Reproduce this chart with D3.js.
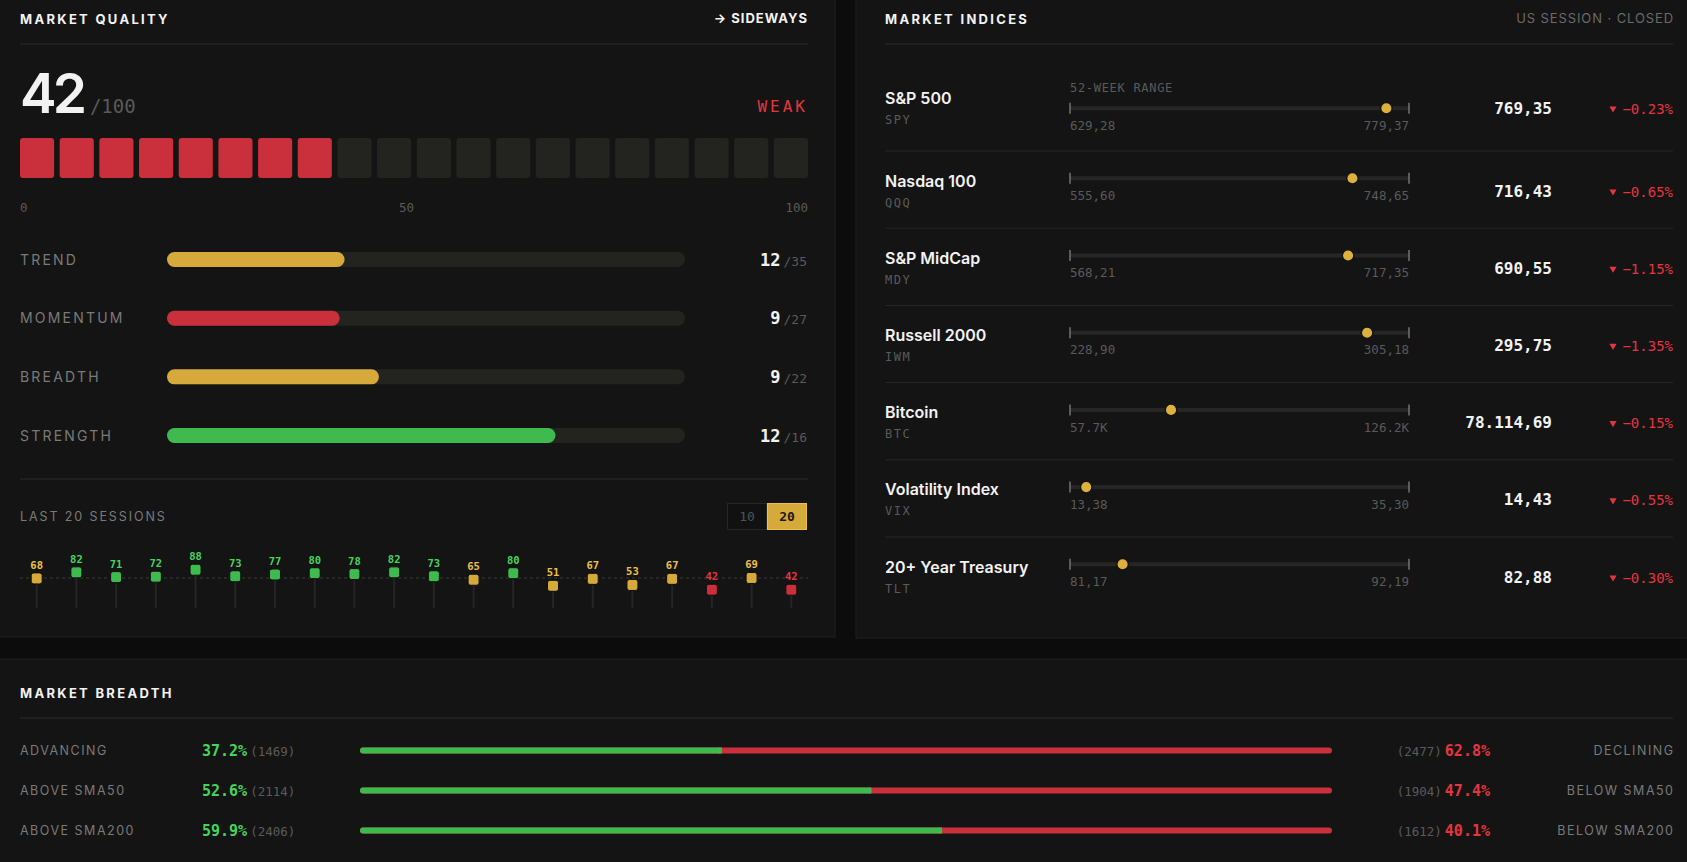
<!DOCTYPE html>
<html>
<head>
<meta charset="utf-8">
<script src="https://cdn.jsdelivr.net/npm/d3@7"></script>
<style>
html, body { margin: 0; padding: 0; background: #0c0c0c; overflow: hidden; }
svg { display: block; }
.sans { font-family: Inter, "Noto Sans", sans-serif; }
.mono { font-family: "DejaVu Sans Mono", monospace; }
</style>
</head>
<body>
<svg id="board"></svg>
<script>

//chart values//

var qualityScore = 42;
var qualityMax = 100;
var qualityRating = "WEAK";
var qualityTrend = "SIDEWAYS";
var qualityTicks = [0, 50, 100];

var componentNames = ["TREND", "MOMENTUM", "BREADTH", "STRENGTH"];
var componentScores = [12, 9, 9, 12];
var componentMax = [35, 27, 22, 16];

var sessionScores = [68, 82, 71, 72, 88, 73, 77, 80, 78, 82, 73, 65, 80, 51, 67, 53, 67, 42, 69, 42];
var sessionWindows = [10, 20];

var indexNames = ["S&P 500", "Nasdaq 100", "S&P MidCap", "Russell 2000", "Bitcoin", "Volatility Index", "20+ Year Treasury"];
var indexTickers = ["SPY", "QQQ", "MDY", "IWM", "BTC", "VIX", "TLT"];
var indexLows = [629.28, 555.60, 568.21, 228.90, 57700, 13.38, 81.17];
var indexHighs = [779.37, 748.65, 717.35, 305.18, 126200, 35.30, 92.19];
var indexPrices = [769.35, 716.43, 690.55, 295.75, 78114.69, 14.43, 82.88];
var indexChanges = [-0.23, -0.65, -1.15, -1.35, -0.15, -0.55, -0.30];

var breadthUpLabels = ["ADVANCING", "ABOVE SMA50", "ABOVE SMA200"];
var breadthDownLabels = ["DECLINING", "BELOW SMA50", "BELOW SMA200"];
var breadthUp = [1469, 2114, 2406];
var breadthDown = [2477, 1904, 1612];

//screen and colours//

var screen = {width: 1687, height: 862};
var col = {
  panel: "#141414", edge: "#1f1f1f", rule: "#2a2a2a", track: "#23231f",
  white: "#f2f2f2", label: "#7a7a7a", dim: "#5a5a5a",
  red: "#c9303b", redText: "#e5353f",
  yellow: "#d6aa3a", yellowText: "#efc146",
  green: "#3fba4f", greenText: "#47d35b"
};

var levelFill = function(v) { return v >= 70 ? col.green : (v >= 50 ? col.yellow : col.red); };
var levelText = function(v) { return v >= 70 ? col.greenText : (v >= 50 ? col.yellowText : col.redText); };

var euro = d3.formatLocale({decimal: ",", thousands: ".", grouping: [3], currency: ["", ""]});
var priceFmt = euro.format(",.2f");
var rangeFmt = function(v) { return v >= 10000 ? d3.format(".1f")(v / 1000) + "K" : priceFmt(v); };
var pctFmt = d3.format(".1f");

var svg = d3.select("#board")
            .attr("width", screen.width)
            .attr("height", screen.height);

//panels//

svg.append("rect").attr("x", -1).attr("y", -10).attr("width", 836).attr("height", 647)
   .attr("fill", col.panel).attr("stroke", col.edge);
svg.append("rect").attr("x", 856).attr("y", -10).attr("width", 846).attr("height", 648)
   .attr("fill", col.panel).attr("stroke", col.edge);
svg.append("rect").attr("x", -1).attr("y", 659).attr("width", 1700).attr("height", 220)
   .attr("fill", col.panel).attr("stroke", col.edge);

var title = function(x, y, txt) {
  svg.append("text").attr("class", "sans").attr("x", x).attr("y", y)
     .attr("fill", col.white).style("font-size", "13px").style("font-weight", 700)
     .style("letter-spacing", "2.3px").text(txt);
};
var rule = function(x1, x2, y) {
  svg.append("line").attr("x1", x1).attr("x2", x2).attr("y1", y).attr("y2", y)
     .attr("stroke", col.rule).attr("stroke-width", 1);
};

// ---------- MARKET QUALITY ----------

title(20, 24.3, "MARKET QUALITY");
svg.append("text").attr("class", "sans").attr("x", 808).attr("y", 23).attr("text-anchor", "end")
   .attr("fill", col.white).style("font-size", "13px").style("font-weight", 700)
   .style("letter-spacing", "1px").text("\u2192 " + qualityTrend);
rule(20, 808, 44);

var big = svg.append("text").attr("x", 20).attr("y", 113.3);
big.append("tspan").attr("class", "sans").attr("fill", col.white)
   .style("font-size", "55px").style("font-weight", 600).style("letter-spacing", "-4px")
   .text(qualityScore);
big.append("tspan").attr("class", "mono").attr("dx", 7).attr("fill", col.dim)
   .style("font-size", "19px").text("/" + qualityMax);

svg.append("text").attr("class", "mono").attr("x", 808).attr("y", 112).attr("text-anchor", "end")
   .attr("fill", col.redText).style("font-size", "16px").style("letter-spacing", "3px")
   .text(qualityRating);

var cellCount = 20;
var cellScale = d3.scaleBand().domain(d3.range(cellCount)).range([20, 808]).paddingInner(0.14);
var filled = Math.floor(qualityScore / (qualityMax / cellCount));

svg.append("g").selectAll("rect")
   .data(d3.range(cellCount))
   .enter()
   .append("rect")
   .attr("x", function(d) { return cellScale(d); })
   .attr("y", 138)
   .attr("width", cellScale.bandwidth())
   .attr("height", 40)
   .attr("rx", 3)
   .attr("fill", function(d) { return d < filled ? levelFill(qualityScore) : col.track; });

var tickScale = d3.scaleLinear().domain([0, qualityMax]).range([20, 808]);
svg.append("g").selectAll("text")
   .data(qualityTicks)
   .enter()
   .append("text")
   .attr("class", "mono")
   .attr("x", function(d) { return tickScale(d); })
   .attr("y", 211.5)
   .attr("text-anchor", function(d, i) { return i == 0 ? "start" : "end"; })
   .attr("fill", col.dim)
   .style("font-size", "12.5px")
   .text(function(d) { return d; });

//component bars//

var compY = d3.scalePoint().domain(componentNames).range([259.5, 435.5]);
var compX = d3.scaleLinear().domain([0, 1]).range([167, 685]);

var comps = svg.append("g").selectAll("g")
   .data(componentNames)
   .enter()
   .append("g");

comps.append("text").attr("class", "sans")
   .attr("x", 20).attr("y", function(d) { return compY(d) + 5; })
   .attr("fill", col.label).style("font-size", "14px").style("letter-spacing", "2.2px")
   .text(function(d) { return d; });

comps.append("rect")
   .attr("x", compX(0)).attr("y", function(d) { return compY(d) - 7.5; })
   .attr("width", compX(1) - compX(0)).attr("height", 15).attr("rx", 7.5)
   .attr("fill", col.track);

comps.append("rect")
   .attr("x", compX(0)).attr("y", function(d) { return compY(d) - 7.5; })
   .attr("width", function(d, i) { return compX(componentScores[i] / componentMax[i]) - compX(0); })
   .attr("height", 15).attr("rx", 7.5)
   .attr("fill", function(d, i) {
      var r = componentScores[i] / componentMax[i];
      return r >= 0.7 ? col.green : (r >= 0.34 ? col.yellow : col.red);
   });

var compScore = comps.append("text")
   .attr("x", 807).attr("y", function(d) { return compY(d) + 6; })
   .attr("text-anchor", "end");
compScore.append("tspan").attr("class", "mono").attr("fill", col.white)
   .style("font-size", "17px").style("font-weight", 700)
   .text(function(d, i) { return componentScores[i]; });
compScore.append("tspan").attr("class", "mono").attr("dx", 3).attr("fill", col.dim)
   .style("font-size", "13px")
   .text(function(d, i) { return "/" + componentMax[i]; });

rule(20, 808, 479);

//last sessions//

svg.append("text").attr("class", "sans").attr("x", 20).attr("y", 520.7)
   .attr("fill", col.label).style("font-size", "12.5px").style("letter-spacing", "1.9px")
   .text("LAST " + sessionScores.length + " SESSIONS");

var btnX = d3.scaleBand().domain(sessionWindows).range([727, 807]);
var btns = svg.append("g").selectAll("g")
   .data(sessionWindows)
   .enter()
   .append("g");
btns.append("rect")
   .attr("x", function(d) { return btnX(d) + 0.5; }).attr("y", 503.5)
   .attr("width", btnX.bandwidth() - 1).attr("height", 26)
   .attr("fill", function(d) { return d == sessionScores.length ? col.yellow : "#111"; })
   .attr("stroke", function(d) { return d == sessionScores.length ? "#e8c04a" : "#262626"; });
btns.append("text").attr("class", "mono")
   .attr("x", function(d) { return btnX(d) + btnX.bandwidth() / 2; }).attr("y", 520.5)
   .attr("text-anchor", "middle")
   .attr("fill", function(d) { return d == sessionScores.length ? "#1a1a1a" : "#4a5560"; })
   .style("font-size", "13px")
   .style("font-weight", function(d) { return d == sessionScores.length ? 700 : 400; })
   .text(function(d) { return d; });

var sx = d3.scalePoint().domain(d3.range(sessionScores.length)).range([20, 808]).padding(0.42);
var sy = d3.scaleLinear().domain([0, 100]).range([608, 564.5]);

svg.append("line")
   .attr("x1", 20).attr("x2", 808)
   .attr("y1", sy(d3.mean(sessionScores))).attr("y2", sy(d3.mean(sessionScores)))
   .attr("stroke", "#3c3c3c").attr("stroke-dasharray", "3,3");

var sess = svg.append("g").selectAll("g")
   .data(sessionScores)
   .enter()
   .append("g");

sess.append("line")
   .attr("x1", function(d, i) { return sx(i); }).attr("x2", function(d, i) { return sx(i); })
   .attr("y1", function(d) { return sy(d); }).attr("y2", sy(0))
   .attr("stroke", "#252525").attr("stroke-width", 2);

sess.append("rect")
   .attr("x", function(d, i) { return sx(i) - 5.5; })
   .attr("y", function(d) { return sy(d) - 5.5; })
   .attr("width", 11).attr("height", 11).attr("rx", 2.5)
   .attr("fill", function(d) { return levelFill(d); })
   .attr("stroke", "#0e0e0e").attr("stroke-width", 1);

sess.append("text").attr("class", "mono")
   .attr("x", function(d, i) { return sx(i); })
   .attr("y", function(d) { return sy(d) - 9.5; })
   .attr("text-anchor", "middle")
   .attr("fill", function(d) { return levelText(d); })
   .style("font-size", "10.5px").style("font-weight", 700)
   .text(function(d) { return d; });

// ---------- MARKET INDICES ----------

title(885, 24.3, "MARKET INDICES");
svg.append("text").attr("class", "sans").attr("x", 1674).attr("y", 22.7).attr("text-anchor", "end")
   .attr("fill", "#6a6a6a").style("font-size", "13px").style("letter-spacing", "0.9px")
   .text("US SESSION \u00b7 CLOSED");
rule(885, 1673, 44);

svg.append("text").attr("class", "mono").attr("x", 1070).attr("y", 92.3)
   .attr("fill", col.dim).style("font-size", "12px").style("letter-spacing", "0.7px")
   .text("52-WEEK RANGE");

var rowTop = d3.scaleLinear().domain([1, indexNames.length - 1]).range([151, 537]);
var top0 = 68;
var rangeX = [1070, 1409];

var rows = svg.append("g").selectAll("g")
   .data(indexNames)
   .enter()
   .append("g")
   .attr("transform", function(d, i) { return "translate(0," + (i == 0 ? top0 : rowTop(i)) + ")"; });

rows.filter(function(d, i) { return i > 0; })
   .append("line")
   .attr("x1", 885).attr("x2", 1673).attr("y1", 0).attr("y2", 0)
   .attr("stroke", "#262626");

rows.append("text").attr("class", "sans")
   .attr("x", 885).attr("y", 35.5)
   .attr("fill", col.white).style("font-size", "16px").style("font-weight", 600)
   .text(function(d) { return d; });

rows.append("text").attr("class", "mono")
   .attr("x", 885).attr("y", 55.5)
   .attr("fill", col.dim).style("font-size", "12px").style("letter-spacing", "1.5px")
   .text(function(d, i) { return indexTickers[i]; });

rows.each(function(d, i) {
  var g = d3.select(this);
  var cy = 27.3 + (i == 0 ? 13 : 0);
  var x = d3.scaleLinear().domain([indexLows[i], indexHighs[i]]).range(rangeX);

  g.append("rect").attr("x", x.range()[0]).attr("y", cy - 2)
   .attr("width", x.range()[1] - x.range()[0]).attr("height", 4)
   .attr("fill", "#262626");

  g.selectAll("line.tick")
   .data(x.domain())
   .enter()
   .append("line")
   .attr("class", "tick")
   .attr("x1", function(v) { return x(v); }).attr("x2", function(v) { return x(v); })
   .attr("y1", cy - 5.5).attr("y2", cy + 5.5)
   .attr("stroke", "#8a8a8a").attr("stroke-width", 1.2);

  g.append("circle").attr("cx", x(indexPrices[i])).attr("cy", cy).attr("r", 5.8)
   .attr("fill", "#dcb13e").attr("stroke", col.panel).attr("stroke-width", 1.5);

  g.selectAll("text.range")
   .data(x.domain())
   .enter()
   .append("text")
   .attr("class", "range mono")
   .attr("x", function(v) { return x(v); })
   .attr("y", cy + 21.7)
   .attr("text-anchor", function(v, k) { return k == 0 ? "start" : "end"; })
   .attr("fill", col.dim).style("font-size", "12.5px")
   .text(function(v) { return rangeFmt(v); });

  g.append("text").attr("class", "mono")
   .attr("x", 1552).attr("y", 45.5).attr("text-anchor", "end")
   .attr("fill", col.white).style("font-size", "16px").style("font-weight", 700)
   .text(priceFmt(indexPrices[i]));

  var up = indexChanges[i] >= 0;
  g.append("path")
   .attr("d", d3.symbol(d3.symbolTriangle, 22)())
   .attr("transform", "translate(1613," + 40.5 + ") rotate(" + (up ? 0 : 180) + ")")
   .attr("fill", up ? col.greenText : col.redText);

  g.append("text").attr("class", "mono")
   .attr("x", 1673).attr("y", 45.5).attr("text-anchor", "end")
   .attr("fill", up ? col.greenText : col.redText).style("font-size", "14px")
   .text((up ? "+" : "") + d3.format(".2f")(indexChanges[i]) + "%");
});

// ---------- MARKET BREADTH ----------

title(20, 698.3, "MARKET BREADTH");
rule(20, 1673, 718);

var bY = d3.scalePoint().domain(d3.range(breadthUp.length)).range([750.5, 830.5]);
var bX = d3.scaleLinear().domain([0, 1]).range([360, 1332]);

var brows = svg.append("g").selectAll("g")
   .data(breadthUpLabels)
   .enter()
   .append("g")
   .attr("transform", function(d, i) { return "translate(0," + bY(i) + ")"; });

brows.append("text").attr("class", "sans")
   .attr("x", 20).attr("y", 4.5)
   .attr("fill", col.label).style("font-size", "12.5px").style("letter-spacing", "1.5px")
   .text(function(d) { return d; });

var leftTxt = brows.append("text").attr("x", 202).attr("y", 5);
leftTxt.append("tspan").attr("class", "mono").attr("fill", col.greenText)
   .style("font-size", "15px").style("font-weight", 700)
   .text(function(d, i) { return pctFmt(breadthUp[i] / (breadthUp[i] + breadthDown[i]) * 100) + "%"; });
leftTxt.append("tspan").attr("class", "mono").attr("dx", 3).attr("fill", col.dim)
   .style("font-size", "12.5px")
   .text(function(d, i) { return "(" + breadthUp[i] + ")"; });

brows.append("rect")
   .attr("x", bX(0)).attr("y", -3).attr("width", bX(1) - bX(0)).attr("height", 6).attr("rx", 3)
   .attr("fill", col.red);
brows.append("rect")
   .attr("x", bX(0)).attr("y", -3).attr("height", 6).attr("rx", 3)
   .attr("width", function(d, i) { return bX(breadthUp[i] / (breadthUp[i] + breadthDown[i])) - bX(0); })
   .attr("fill", col.green);
brows.append("rect")
   .attr("x", function(d, i) { return bX(breadthUp[i] / (breadthUp[i] + breadthDown[i])) - 3; })
   .attr("y", -3).attr("width", 3).attr("height", 6)
   .attr("fill", col.green);

var rightTxt = brows.append("text").attr("x", 1490).attr("y", 5).attr("text-anchor", "end");
rightTxt.append("tspan").attr("class", "mono").attr("fill", col.dim)
   .style("font-size", "12.5px")
   .text(function(d, i) { return "(" + breadthDown[i] + ")"; });
rightTxt.append("tspan").attr("class", "mono").attr("dx", 3).attr("fill", col.redText)
   .style("font-size", "15px").style("font-weight", 700)
   .text(function(d, i) { return pctFmt(breadthDown[i] / (breadthUp[i] + breadthDown[i]) * 100) + "%"; });

brows.append("text").attr("class", "sans")
   .attr("x", 1674.5).attr("y", 4.5).attr("text-anchor", "end")
   .attr("fill", col.label).style("font-size", "12.5px").style("letter-spacing", "1.5px")
   .text(function(d, i) { return breadthDownLabels[i]; });

</script>
</body>
</html>
